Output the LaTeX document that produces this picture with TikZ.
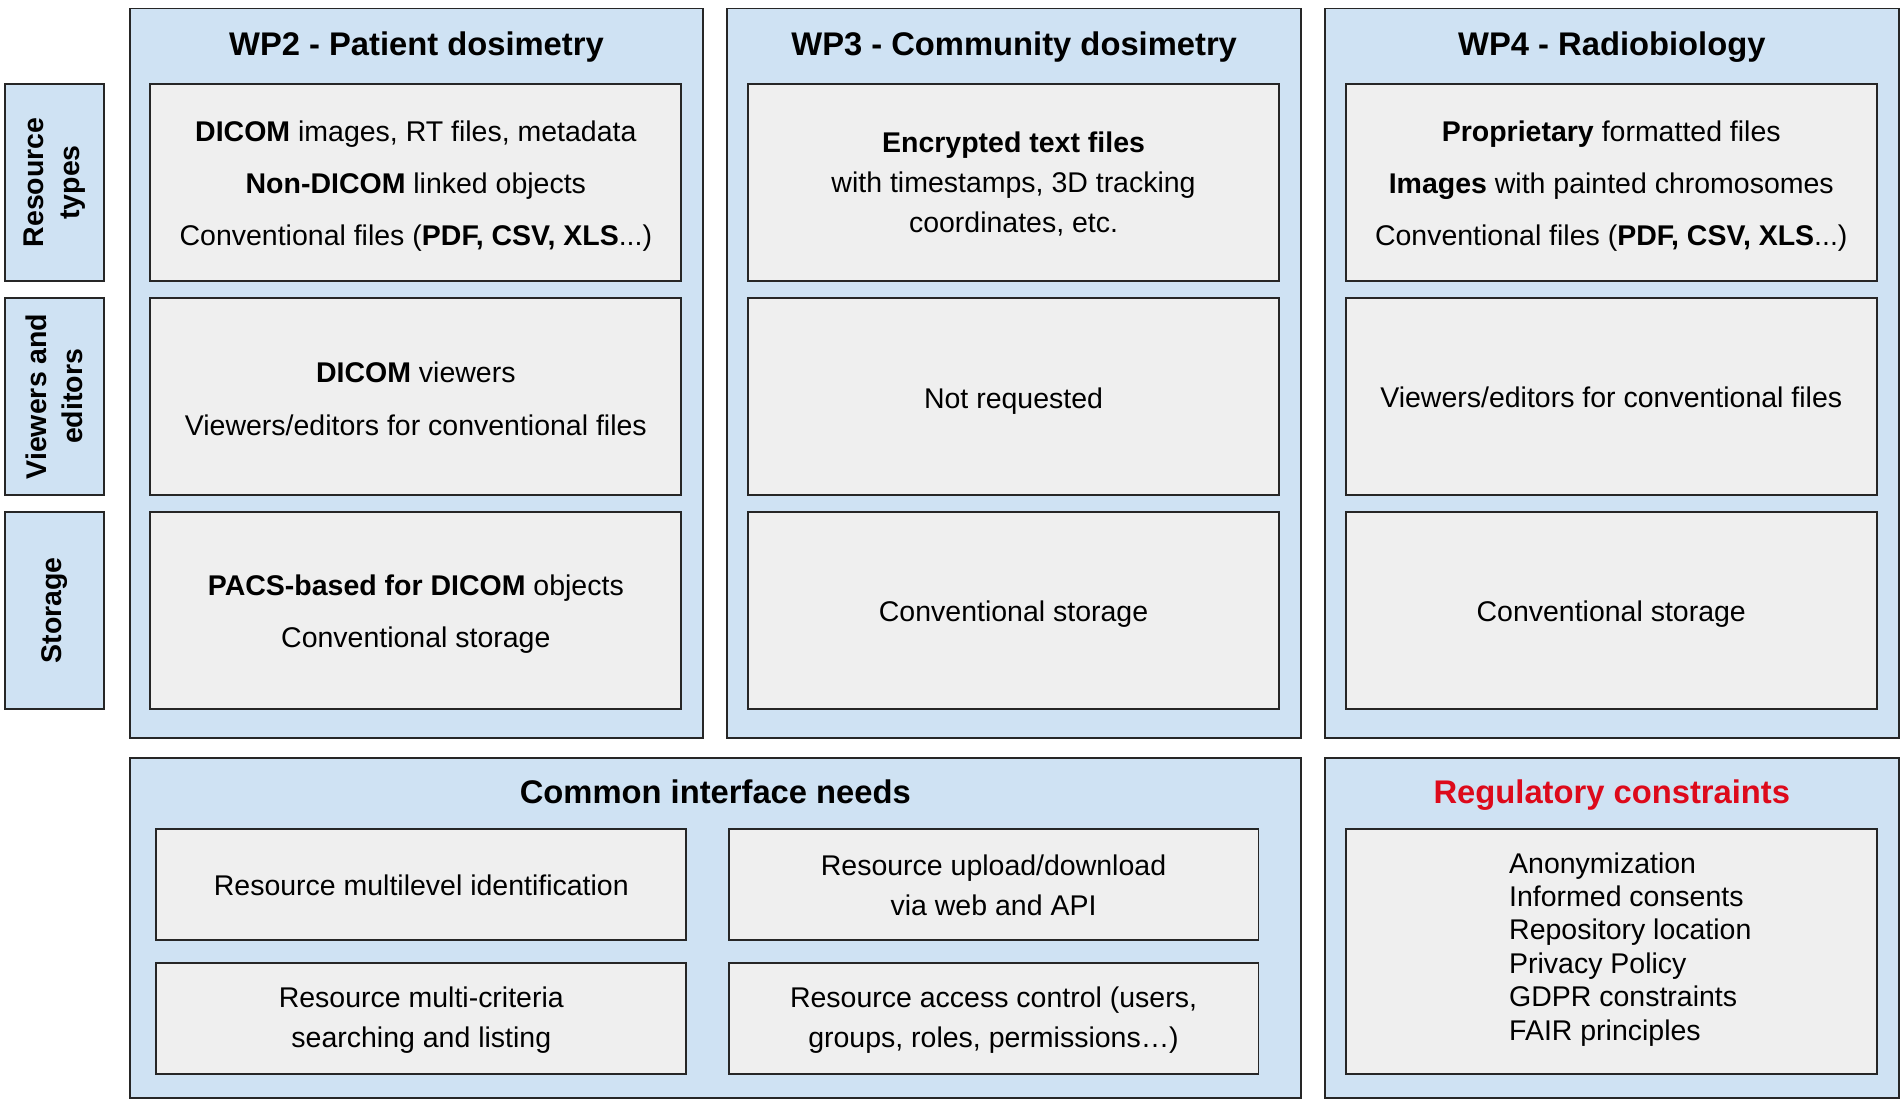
\documentclass[tikz,border=0pt]{standalone}
\usepackage{fontspec}
\setmainfont{Liberation Sans}
\definecolor{outerblue}{HTML}{CFE2F3}
\definecolor{innergray}{HTML}{EFEFEF}
\definecolor{edgegray}{HTML}{262626}
\definecolor{regred}{HTML}{DD0A1B}
\newcommand\titlefont{\fontsize{27}{32}\selectfont\bfseries}
\newcommand\bodyA{\fontsize{23.5}{43}\selectfont}
\newcommand\bodyB{\fontsize{23.5}{33}\selectfont}
\newcommand\bodyC{\fontsize{23.5}{27.6}\selectfont}
\newcommand\sidefont{\fontsize{23.5}{30}\selectfont\bfseries}
\begin{document}
\begin{tikzpicture}[x=1pt,y=-1pt,
  outerbox/.style={draw=edgegray, line width=1.6pt, fill=outerblue, rectangle, inner sep=0pt},
  innerbox/.style={draw=edgegray, line width=1.5pt, fill=innergray, rectangle, inner sep=0pt,
    minimum width=438pt},
  sidebox/.style={draw=edgegray, line width=1.5pt, fill=outerblue, rectangle, inner sep=0pt,
    minimum width=82pt},
  sidelabel/.style={rotate=90, align=center, font=\sidefont, inner sep=0pt},
  titlelabel/.style={anchor=base, font=\titlefont, inner sep=0pt},
  boxtext/.style={align=center, font=\bodyA, inner sep=0pt},
  rowA/.style={minimum height=163pt},
  rowB/.style={minimum height=162pt},
  cbox/.style={draw=edgegray, line width=1.5pt, fill=innergray, rectangle, inner sep=0pt,
    minimum width=437pt}
]
\useasboundingbox (0,0) rectangle (1568,915.6);
\fill[white] (0,0) rectangle (1568,915.6);

% side labels
\node[sidebox, rowA] (s1) at (45,150.5) {};
\node[sidelabel] (s1t) at (s1.center) {Resource\\types};
\node[sidebox, rowB] (s2) at (45,327) {};
\node[sidelabel] (s2t) at (s2.center) {Viewers and\\editors};
\node[sidebox, rowA] (s3) at (45,503.5) {};
\node[sidelabel] (s3t) at (s3.center) {Storage};

% outer WP boxes
\node[outerbox, minimum width=473pt, minimum height=602pt] (wp2) at (343.5,308) {};
\node[outerbox, minimum width=473pt, minimum height=602pt] (wp3) at (836.5,308) {};
\node[outerbox, minimum width=473pt, minimum height=602pt] (wp4) at (1329.5,308) {};
\node[titlelabel] (wp2t) at (343.5,45.5) {WP2 - Patient dosimetry};
\node[titlelabel] (wp3t) at (836.5,45.5) {WP3 - Community dosimetry};
\node[titlelabel] (wp4t) at (1329.5,45.5) {WP4 - Radiobiology};

% WP2
\node[innerbox, rowA] (a1) at (343,150.5) {};
\node[boxtext] (a1t) at ([yshift=-3pt]a1.center) {\textbf{DICOM} images, RT files, metadata\\\textbf{Non-DICOM} linked objects\\Conventional files (\textbf{PDF, CSV, XLS}...)};
\node[innerbox, rowB] (a2) at (343,327) {};
\node[boxtext] (a2t) at ([yshift=-2pt]a2.center) {\textbf{DICOM} viewers\\Viewers/editors for conventional files};
\node[innerbox, rowA] (a3) at (343,503.5) {};
\node[boxtext] (a3t) at ([yshift=-3pt]a3.center) {\textbf{PACS-based for DICOM} objects\\Conventional storage};

% WP3
\node[innerbox, rowA] (b1) at (836,150.5) {};
\node[boxtext, font=\bodyB] (b1t) at ([yshift=-1pt]b1.center) {\textbf{Encrypted text files}\\with timestamps, 3D tracking\\coordinates, etc.};
\node[innerbox, rowB] (b2) at (836,327) {};
\node[boxtext] (b2t) at ([yshift=-4pt]b2.center) {Not requested};
\node[innerbox, rowA] (b3) at (836,503.5) {};
\node[boxtext] (b3t) at ([yshift=-3pt]b3.center) {Conventional storage};

% WP4
\node[innerbox, rowA] (c1) at (1329,150.5) {};
\node[boxtext] (c1t) at ([yshift=-3pt]c1.center) {\textbf{Proprietary} formatted files\\\textbf{Images} with painted chromosomes\\Conventional files (\textbf{PDF, CSV, XLS}...)};
\node[innerbox, rowB] (c2) at (1329,327) {};
\node[boxtext] (c2t) at ([yshift=-1pt]c2.center) {Viewers/editors for conventional files};
\node[innerbox, rowA] (c3) at (1329,503.5) {};
\node[boxtext] (c3t) at ([yshift=-3pt]c3.center) {Conventional storage};

% Common interface needs
\node[outerbox, minimum width=966pt, minimum height=281pt] (com) at (590,765.5) {};
\node[titlelabel] (comt) at (590,663) {Common interface needs};
\node[cbox, minimum height=91pt] (d1) at (347.5,729.5) {};
\node[boxtext, font=\bodyB] (d1t) at ([yshift=-1pt]d1.center) {Resource multilevel identification};
\node[cbox, minimum height=91pt] (d2) at (819.5,729.5) {};
\node[boxtext, font=\bodyB] (d2t) at ([yshift=-1pt]d2.center) {Resource upload/download\\via web and API};
\node[cbox, minimum height=92pt] (d3) at (347.5,840) {};
\node[boxtext, font=\bodyB] (d3t) at ([yshift=-1.5pt]d3.center) {Resource multi-criteria\\searching and listing};
\node[cbox, minimum height=92pt] (d4) at (819.5,840) {};
\node[boxtext, font=\bodyB] (d4t) at ([yshift=-1.5pt]d4.center) {Resource access control (users,\\groups, roles, permissions…)};

% Regulatory constraints
\node[outerbox, minimum width=473pt, minimum height=281pt] (reg) at (1329.5,765.5) {};
\node[titlelabel, text=regred] (regt) at (1329.5,663) {Regulatory constraints};
\node[innerbox, minimum height=202pt] (r1) at (1329,785) {};
\node[anchor=west, align=left, font=\bodyC, inner sep=0pt] (r1t) at (1244.6,783) {Anonymization\\Informed consents\\Repository location\\Privacy Policy\\GDPR constraints\\FAIR principles};
\end{tikzpicture}
\end{document}
